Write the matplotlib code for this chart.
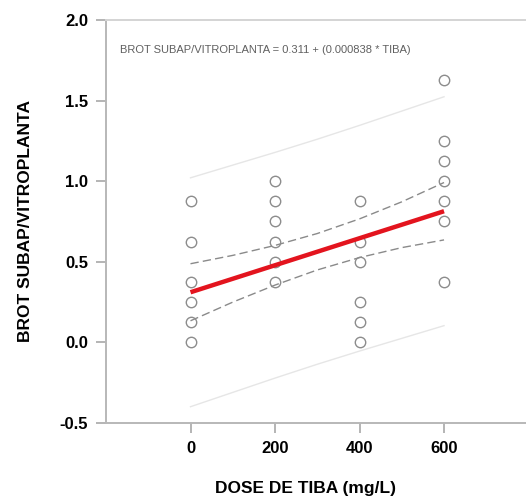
import matplotlib.pyplot as plt
import numpy as np

plt.rcParams['font.family'] = ['Liberation Sans', 'DejaVu Sans']

dose = [0, 0, 0, 0, 0, 0,
        200, 200, 200, 200, 200, 200,
        400, 400, 400, 400, 400, 400,
        600, 600, 600, 600, 600, 600, 600]
ratio = [0.875, 0.625, 0.375, 0.25, 0.125, 0.0,
         1.0, 0.875, 0.75, 0.625, 0.5, 0.375,
         0.875, 0.625, 0.5, 0.25, 0.125, 0.0,
         1.625, 1.25, 1.125, 1.0, 0.875, 0.75, 0.375]

# Regression as printed on the chart
intercept = 0.311
slope = 0.000838

# Band half-widths read at these doses
band_dose = [0, 100, 200, 300, 400, 500, 600]
ci_half = [0.177, 0.145, 0.123, 0.113, 0.12, 0.142, 0.178]
pi_half = [0.71, 0.705, 0.70, 0.698, 0.70, 0.705, 0.71]

fig = plt.figure(figsize=(5.26, 4.99), dpi=100)
ax = fig.add_axes([106/526, 76/499, 420/526, 403/499])

bx = np.array(band_dose)
fit = intercept + slope * bx

# prediction bands (very light) and confidence bands (dashed)
ax.plot(bx, fit + np.array(pi_half), color='#e6e6e6', lw=1.0)
ax.plot(bx, fit - np.array(pi_half), color='#e6e6e6', lw=1.0)
ax.plot(bx, fit + np.array(ci_half), color='#8a8a8a', lw=1.0, dashes=(6, 3))
ax.plot(bx, fit - np.array(ci_half), color='#8a8a8a', lw=1.0, dashes=(6, 3))

ax.plot(dose, ratio, 'o', ms=7.5, mfc='none', mec='#8c8c8c', mew=1.0)

ax.plot([bx[0], bx[-1]], [fit[0], fit[-1]], color='#e3141e', lw=3.2, solid_capstyle='butt')

ax.text(0.033, 0.925, 'BROT SUBAP/VITROPLANTA = 0.311 + (0.000838 * TIBA)',
        transform=ax.transAxes, fontsize=8, color='#606060', va='center', ha='left')

ax.set_xlim(-200, 794)
ax.set_ylim(-0.5, 2.0)
ax.set_xticks([0, 200, 400, 600])
ax.set_yticks([-0.5, 0.0, 0.5, 1.0, 1.5, 2.0])
ax.set_yticklabels(['-0.5', '0.0', '0.5', '1.0', '1.5', '2.0'])

for s in ['left', 'bottom', 'top']:
    ax.spines[s].set_color('#b8b8b8')
    ax.spines[s].set_linewidth(1.4)
ax.spines['top'].set_color('#d4d4d4')
ax.spines['right'].set_visible(False)

ax.tick_params(axis='both', direction='out', length=7, width=1.2, color='#a8a8a8',
               labelsize=12, pad=6)
for lab in ax.get_xticklabels() + ax.get_yticklabels():
    lab.set_fontweight('bold')

ax.set_xlabel('DOSE DE TIBA (mg/L)', fontsize=12.5, fontweight='bold')
ax.set_ylabel('BROT SUBAP/VITROPLANTA', fontsize=12.5, fontweight='bold')
ax.xaxis.set_label_coords(0.474, -0.145)
ax.yaxis.set_label_coords(-0.174, 0.5)

fig.savefig('out.png', dpi=100)
